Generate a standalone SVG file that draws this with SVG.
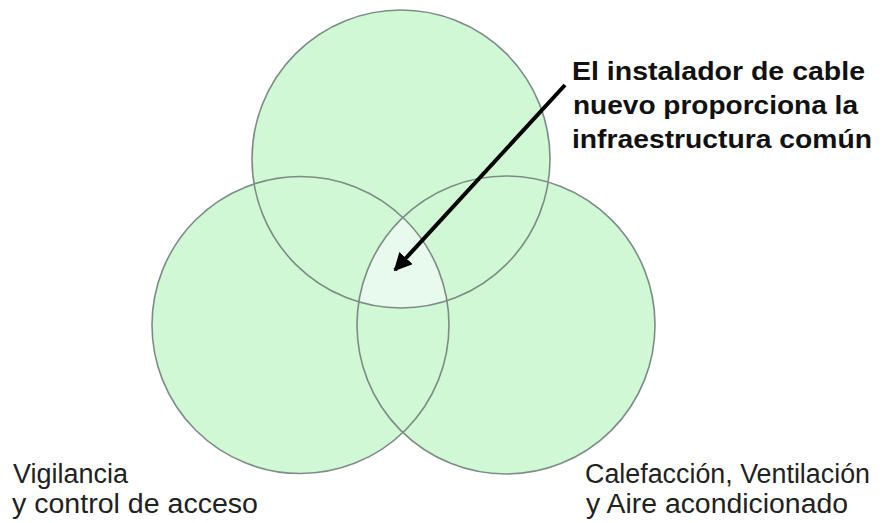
<svg xmlns="http://www.w3.org/2000/svg" width="892" height="523" viewBox="0 0 892 523">
<style>
.c{fill:#d0f8d4;stroke:none}
.o{fill:none;stroke:#7d8c86;stroke-width:1.6}
.t{font-family:"Liberation Sans",Arial,sans-serif;font-size:27px;fill:#222}
.b{font-family:"Liberation Sans",Arial,sans-serif;font-size:26px;font-weight:bold;fill:#111}
</style>
<defs>
<clipPath id="cpL"><circle cx="300.5" cy="325" r="148.5"/></clipPath>
<clipPath id="cpR"><circle cx="506" cy="325" r="149"/></clipPath>
<marker id="ah" viewBox="0 0 10 10" refX="9" refY="5" markerWidth="4.5" markerHeight="4.5" orient="auto" markerUnits="strokeWidth">
<path d="M0,0 L10,5 L0,10 z" fill="#000"/>
</marker>
</defs>
<rect width="892" height="523" fill="#fff"/>
<g id="fills">
<circle class="c" cx="401" cy="159" r="149"/>
<circle class="c" cx="300.5" cy="325" r="148.5"/>
<circle class="c" cx="506" cy="325" r="149"/>
<g clip-path="url(#cpL)"><g clip-path="url(#cpR)"><circle cx="401" cy="159" r="149" fill="#e8faee"/></g></g>
</g>
<g id="node-top"><circle class="o" cx="401" cy="159" r="149"/></g>
<g id="node-left"><circle class="o" cx="300.5" cy="325" r="148.5"/>
<text class="t" x="13" y="483" textLength="115" lengthAdjust="spacingAndGlyphs">Vigilancia</text>
<text class="t" x="12" y="513" textLength="246" lengthAdjust="spacingAndGlyphs">y control de acceso</text></g>
<g id="node-right"><circle class="o" cx="506" cy="325" r="149"/>
<text class="t" x="585" y="483" textLength="285" lengthAdjust="spacingAndGlyphs">Calefacción, Ventilación</text>
<text class="t" x="586" y="513" textLength="262" lengthAdjust="spacingAndGlyphs">y Aire acondicionado</text></g>
<g id="label"><text class="b" x="572" y="80" textLength="293" lengthAdjust="spacingAndGlyphs">El instalador de cable</text>
<text class="b" x="573" y="114" textLength="285" lengthAdjust="spacingAndGlyphs">nuevo proporciona la</text>
<text class="b" x="572" y="148" textLength="300" lengthAdjust="spacingAndGlyphs">infraestructura común</text></g>
<g id="connectors"><line x1="565" y1="85" x2="395" y2="270" stroke="#000" stroke-width="4" marker-end="url(#ah)"/></g>
</svg>
